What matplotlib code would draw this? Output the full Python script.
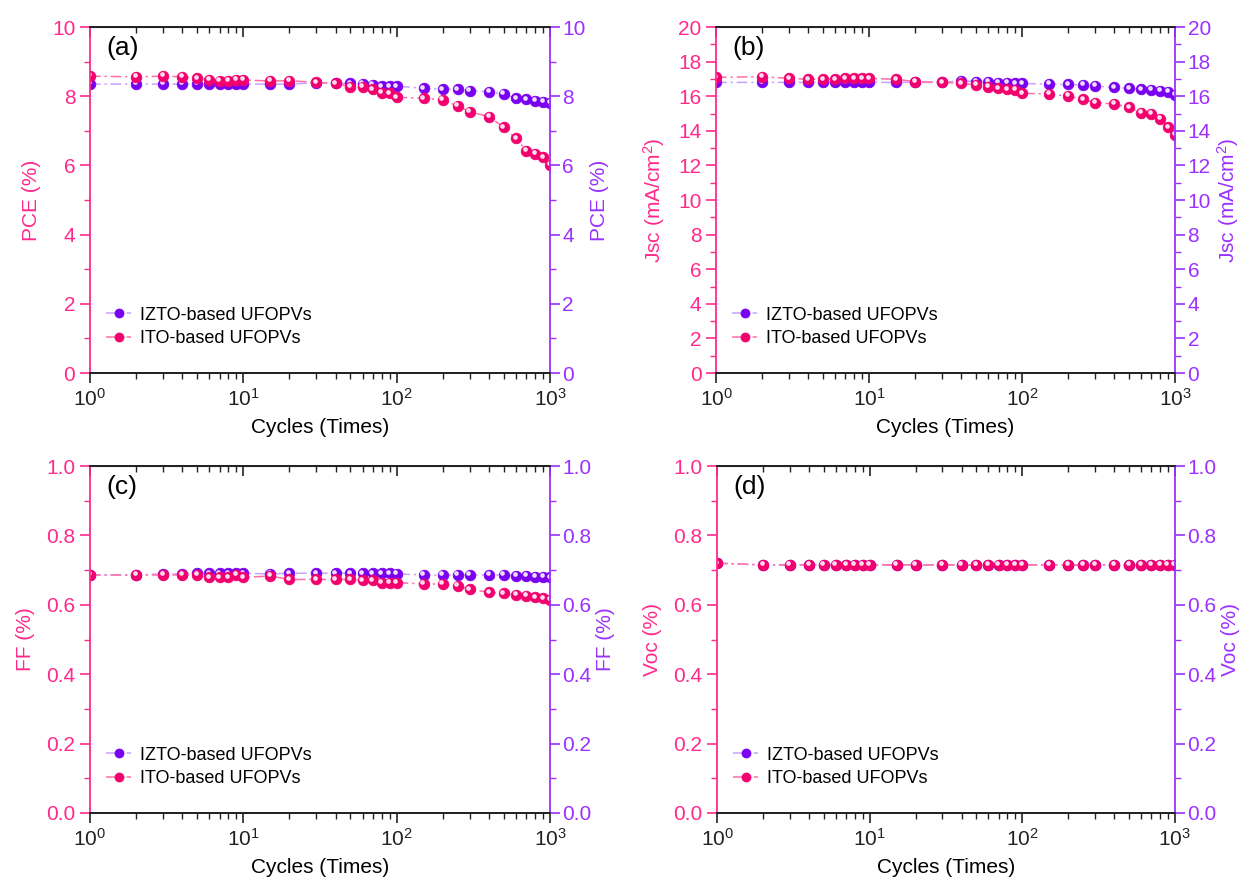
import matplotlib
matplotlib.use('Agg')
import matplotlib.pyplot as plt
from matplotlib.ticker import MultipleLocator
from matplotlib.transforms import offset_copy

plt.rcParams['font.family'] = ['Liberation Sans', 'DejaVu Sans']
plt.rcParams['mathtext.fontset'] = 'custom'
plt.rcParams['mathtext.rm'] = 'Liberation Sans'
plt.rcParams['mathtext.default'] = 'regular'

# ciclos de doblado
cycles = [1, 2, 3, 4, 5, 6, 7, 8, 9, 10, 15, 20, 30, 40, 50, 60, 70, 80, 90, 100,
          150, 200, 250, 300, 400, 500, 600, 700, 800, 900, 1000]

pce_ito = [8.58, 8.56, 8.58, 8.56, 8.52, 8.47, 8.45, 8.45, 8.47, 8.47, 8.44, 8.45,
           8.40, 8.37, 8.27, 8.27, 8.20, 8.10, 8.08, 7.97, 7.94, 7.89, 7.72, 7.55,
           7.41, 7.10, 6.78, 6.43, 6.33, 6.23, 6.02]
pce_izto = [8.35, 8.35, 8.35, 8.35, 8.35, 8.35, 8.35, 8.35, 8.35, 8.35, 8.35, 8.35,
            8.39, 8.37, 8.37, 8.35, 8.32, 8.29, 8.29, 8.29, 8.23, 8.20, 8.20, 8.16,
            8.13, 8.06, 7.94, 7.91, 7.87, 7.84, 7.80]

jsc_ito = [17.09, 17.13, 17.03, 16.98, 16.98, 16.98, 17.03, 17.03, 17.03, 17.03, 16.98,
           16.84, 16.80, 16.74, 16.65, 16.55, 16.45, 16.40, 16.36, 16.17, 16.13, 16.01,
           15.82, 15.63, 15.55, 15.36, 15.05, 14.97, 14.68, 14.20, 13.76]
jsc_izto = [16.80, 16.80, 16.80, 16.80, 16.80, 16.80, 16.80, 16.80, 16.80, 16.80, 16.80,
            16.80, 16.80, 16.90, 16.84, 16.84, 16.78, 16.78, 16.74, 16.74, 16.70, 16.68,
            16.65, 16.59, 16.51, 16.45, 16.40, 16.36, 16.32, 16.26, 16.07]

ff_ito = [0.686, 0.686, 0.686, 0.686, 0.686, 0.679, 0.679, 0.679, 0.686, 0.679, 0.683,
          0.673, 0.673, 0.673, 0.673, 0.671, 0.671, 0.664, 0.664, 0.664, 0.660, 0.660,
          0.654, 0.645, 0.636, 0.633, 0.628, 0.625, 0.622, 0.619, 0.614]
ff_izto = [0.686, 0.686, 0.689, 0.689, 0.691, 0.691, 0.691, 0.691, 0.691, 0.691, 0.689,
           0.691, 0.691, 0.691, 0.691, 0.691, 0.691, 0.691, 0.691, 0.689, 0.686, 0.686,
           0.686, 0.686, 0.686, 0.686, 0.683, 0.683, 0.681, 0.681, 0.679]

voc_ito = [0.720, 0.715, 0.715, 0.715, 0.715, 0.715, 0.715, 0.715, 0.715, 0.715, 0.715,
           0.715, 0.715, 0.715, 0.715, 0.715, 0.715, 0.715, 0.715, 0.715, 0.715, 0.715,
           0.715, 0.715, 0.715, 0.715, 0.715, 0.715, 0.715, 0.715, 0.715]
voc_izto = [0.720, 0.715, 0.715, 0.715, 0.715, 0.715, 0.715, 0.715, 0.715, 0.715, 0.715,
            0.715, 0.715, 0.715, 0.715, 0.715, 0.715, 0.715, 0.715, 0.715, 0.715, 0.715,
            0.715, 0.715, 0.715, 0.715, 0.715, 0.715, 0.715, 0.715, 0.715]

PINK_AX = '#FF2A8C'
PINK = '#F2006E'
PINK_LINE = '#FF6FA8'
PURPLE_AX = '#9B30FF'
PURPLE = '#7A00F0'
PURPLE_LINE = '#C7A2FF'
DASHDOT = (0, (7, 2.5, 1.5, 2.5))

fig = plt.figure(figsize=(12.44, 8.89), dpi=100)


def panel(rect, letter, ylab, ymax, major, ito, izto):
    ax = fig.add_axes(rect)
    ax.set_xscale('log')
    ax.set_xlim(1, 1000)
    ax.set_ylim(0, ymax)
    ax.yaxis.set_major_locator(MultipleLocator(major))
    ax.yaxis.set_minor_locator(MultipleLocator(major / 2))

    hl = offset_copy(ax.transData, fig=fig, x=-1.0, y=1.2, units='points')
    series = [(izto, PURPLE, PURPLE_LINE, 'IZTO-based UFOPVs'),
              (ito, PINK, PINK_LINE, 'ITO-based UFOPVs')]
    handles = []
    for vals, col, lcol, lab in series:
        ln, = ax.plot(cycles, vals, linestyle=DASHDOT, color=lcol, lw=1.1,
                      marker='o', ms=7.6, mfc=col, mec=col, mew=0.6, label=lab)
        ax.plot(cycles, vals, ls='none', marker='o', ms=2.4, color='white',
                alpha=0.8, transform=hl)
        handles.append(ln)

    ax.legend(handles=handles, loc='lower left', bbox_to_anchor=(0.035, 0.075),
              frameon=False, fontsize=13, handlelength=1.4, handletextpad=0.5,
              labelspacing=0.35, borderpad=0, borderaxespad=0, markerscale=0.85)

    ax.set_xlabel('Cycles (Times)', fontsize=15, labelpad=6)
    ax.set_ylabel(ylab, fontsize=15, color=PINK_AX, labelpad=8)
    ax.text(0.035, 0.975, letter, transform=ax.transAxes, fontsize=19,
            va='top', ha='left')

    ax.tick_params(axis='x', which='both', direction='out', labelsize=15,
                   colors='#222222')
    ax.tick_params(axis='x', which='major', length=7, width=1.2)
    ax.tick_params(axis='x', which='minor', length=4, width=1.0)
    ax.tick_params(axis='y', which='both', direction='out', labelsize=15,
                   colors=PINK_AX)
    ax.tick_params(axis='y', which='major', length=7, width=1.2)
    ax.tick_params(axis='y', which='minor', length=4, width=1.0)

    top = ax.secondary_xaxis('top')
    top.tick_params(axis='x', which='both', direction='in', labeltop=False,
                    colors='#222222')
    top.tick_params(axis='x', which='major', length=7, width=1.2)
    top.tick_params(axis='x', which='minor', length=4, width=1.0)

    tw = ax.twinx()
    tw.set_ylim(0, ymax)
    tw.yaxis.set_major_locator(MultipleLocator(major))
    tw.yaxis.set_minor_locator(MultipleLocator(major / 2))
    tw.set_ylabel(ylab, fontsize=15, color=PURPLE_AX, labelpad=3)
    tw.tick_params(axis='y', which='both', direction='out', labelsize=15,
                   colors=PURPLE_AX, pad=2)
    tw.tick_params(axis='y', which='major', length=7, width=1.2)
    tw.tick_params(axis='y', which='minor', length=4, width=1.0)

    for a in (ax, tw):
        a.spines['top'].set_color('#222222')
        a.spines['bottom'].set_color('#222222')
        for s in a.spines.values():
            s.set_linewidth(1.3)
    ax.spines['left'].set_color(PINK_AX)
    ax.spines['right'].set_visible(False)
    tw.spines['left'].set_visible(False)
    tw.spines['right'].set_color(PURPLE_AX)
    top.spines['top'].set_color('#222222')
    return ax


panel([0.0723, 0.5804, 0.3698, 0.3892], '(a)', 'PCE (%)', 10, 2, pce_ito, pce_izto)
panel([0.5756, 0.5804, 0.3690, 0.3892], '(b)', 'Jsc (mA/cm$^{2}$)', 20, 2, jsc_ito, jsc_izto)
panel([0.0723, 0.0855, 0.3698, 0.3903], '(c)', 'FF (%)', 1.0, 0.2, ff_ito, ff_izto)
panel([0.5764, 0.0855, 0.3680, 0.3903], '(d)', 'Voc (%)', 1.0, 0.2, voc_ito, voc_izto)

fig.savefig('out.png', dpi=100)
